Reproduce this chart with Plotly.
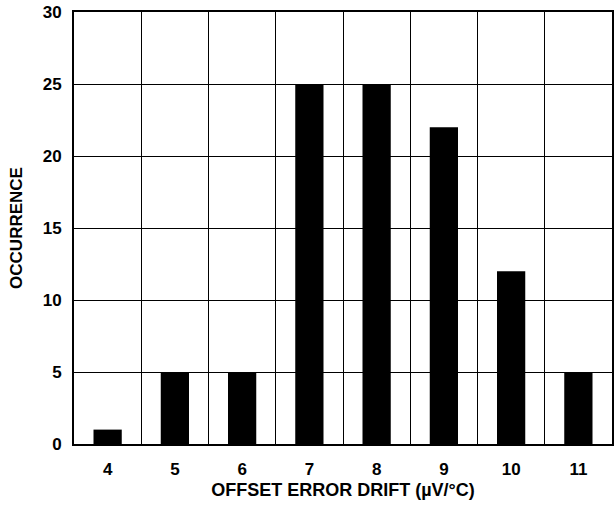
import plotly.graph_objects as go

# Histogram of offset error drift
drift_bins = [4, 5, 6, 7, 8, 9, 10, 11]
occurrence = [1, 5, 5, 25, 25, 22, 12, 5]
y_ticks = [0, 5, 10, 15, 20, 25, 30]

# vertical grid lines sit between the bins
bin_edges = [b + 0.5 for b in drift_bins[:-1]]

FONT = "Liberation Sans, Arial, sans-serif"

fig = go.Figure(
    go.Bar(
        x=drift_bins,
        y=occurrence,
        width=0.42,
        marker=dict(color="black", line=dict(width=0)),
    )
)

fig.update_layout(
    width=615,
    height=508,
    margin=dict(l=74, r=1, t=12, b=64),
    paper_bgcolor="white",
    plot_bgcolor="white",
    showlegend=False,
    font=dict(family=FONT, color="black"),
)

fig.update_xaxes(
    range=[drift_bins[0] - 0.5, drift_bins[-1] + 0.5],
    tickvals=drift_bins,
    ticktext=[str(b) for b in drift_bins],
    showgrid=False,
    zeroline=False,
    ticks="",
    ticklabelstandoff=9,
    tickfont=dict(family=FONT, size=17, color="black", weight="bold"),
    showline=True,
    linecolor="black",
    linewidth=2,
    mirror=True,
    minor=dict(tickvals=bin_edges, showgrid=True, gridcolor="black", gridwidth=1, ticks=""),
    title=dict(
        text="OFFSET ERROR DRIFT (µV/°C)",
        font=dict(family=FONT, size=18, color="black", weight="bold"),
        standoff=5,
    ),
)

fig.update_yaxes(
    range=[0, 30],
    tickvals=y_ticks,
    showgrid=True,
    gridcolor="black",
    gridwidth=1,
    zeroline=False,
    ticks="",
    ticklabelstandoff=7,
    tickfont=dict(family=FONT, size=17, color="black", weight="bold"),
    showline=True,
    linecolor="black",
    linewidth=2,
    mirror=True,
    title=dict(
        text="OCCURRENCE",
        font=dict(family=FONT, size=17, color="black", weight="bold"),
        standoff=16,
    ),
)

fig.write_html("out.html")
